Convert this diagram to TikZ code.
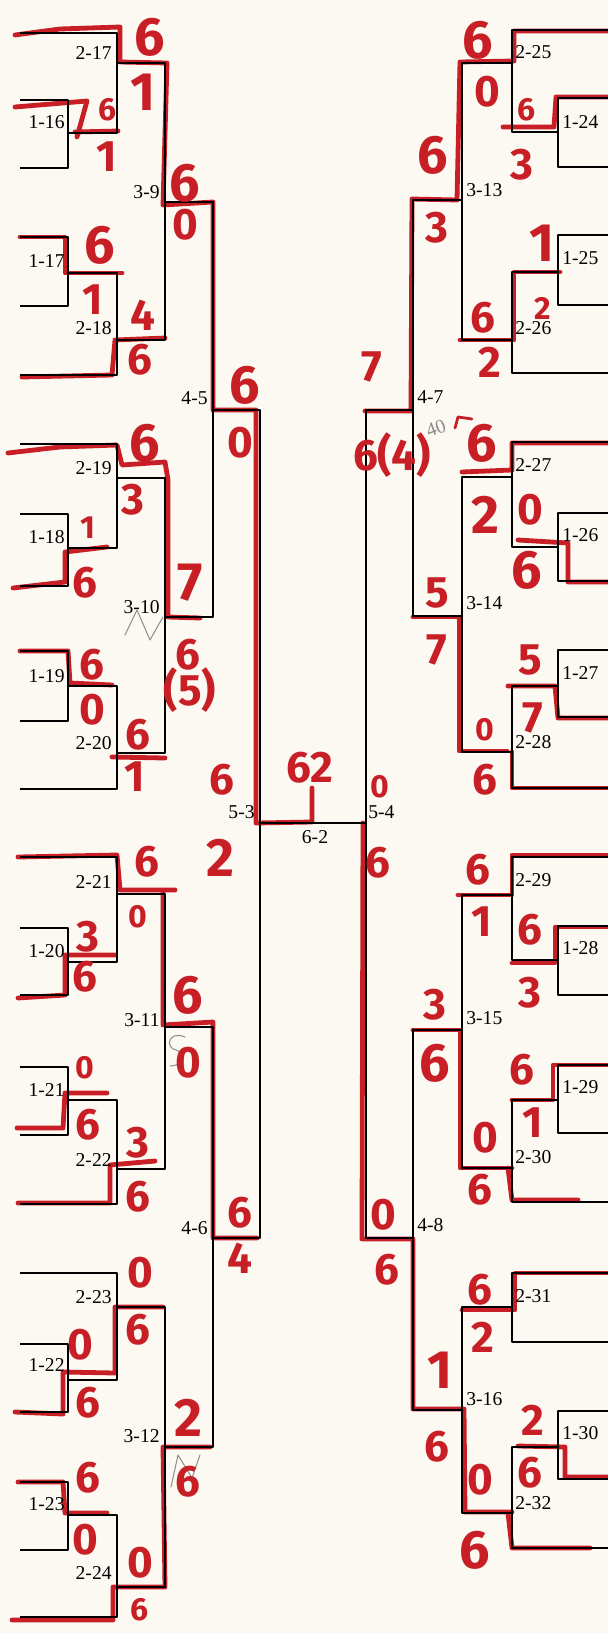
\documentclass[tikz,border=0pt]{standalone}
\usepackage{fontspec}
\usepackage{tikz}
\usepackage{xcolor}
\newfontfamily\lblfont{Liberation Serif}
\newfontfamily\handfont{Fira Sans}
\definecolor{paper}{RGB}{251,249,241}
\definecolor{handred}{RGB}{200,30,38}
\definecolor{pencil}{RGB}{140,140,140}

\begin{document}
\begin{tikzpicture}[x=0.5pt,y=-0.5pt,line cap=round,line join=round,
  bk/.style={black,line width=1.1pt,line cap=butt},
  rd/.style={handred,line width=2.4pt},
  lbl/.style={font=\lblfont\fontsize{9.8}{10}\selectfont,inner sep=1pt},
  sc/.style={text=handred,inner sep=0pt,font=\handfont\bfseries\fontsize{22}{22}\selectfont},
  scb/.style={sc,font=\handfont\bfseries\fontsize{27}{27}\selectfont},
  scs/.style={sc,font=\handfont\bfseries\fontsize{16}{16}\selectfont}]
\fill[paper] (0,0) rectangle (608,1633);
\useasboundingbox (0,0) rectangle (608,1633);

\draw[rd] (15,35) -- (60,29) -- (120,27) -- (120,62) -- (167,63) -- (163,205) -- (213,202) -- (213,410) -- (256,410) -- (256,823) -- (312,822) -- (312,788);
\draw[rd] (15,107) -- (87,101) -- (77,137);
\draw[rd] (75,132) -- (118,131);
\draw[rd] (20,237) -- (65,237) -- (65,273) -- (122,273);
\draw[rd] (22,377) -- (112,375) -- (115,340) -- (165,338);
\draw[rd] (8,453) -- (60,447) -- (117,445) -- (122,465) -- (165,462) -- (168,480) -- (168,617) -- (200,618);
\draw[rd] (13,588) -- (65,582) -- (65,552) -- (107,547);
\draw[rd] (20,651) -- (68,651) -- (70,683) -- (112,685);
\draw[rd] (112,757) -- (165,758);
\draw[rd] (18,857) -- (117,855) -- (120,890) -- (175,890);
\draw[rd] (163,892) -- (163,1025) -- (213,1022) -- (213,1238) -- (257,1238);
\draw[rd] (18,998) -- (65,995) -- (65,955) -- (115,955);
\draw[rd] (17,1128) -- (63,1128) -- (65,1093) -- (107,1093);
\draw[rd] (18,1203) -- (110,1203) -- (110,1165) -- (155,1161);
\draw[rd] (15,1412) -- (63,1414) -- (63,1372) -- (115,1373) -- (115,1307) -- (163,1307);
\draw[rd] (18,1482) -- (63,1482) -- (65,1513) -- (107,1513);
\draw[rd] (12,1620) -- (113,1620) -- (113,1587) -- (165,1587) -- (163,1447) -- (210,1447);
\draw[rd] (610,31) -- (514,31) -- (514,61) -- (460,62) -- (457,200) -- (412,199) -- (411,411) -- (365,411);
\draw[rd] (610,97) -- (556,97) -- (554,127) -- (503,127);
\draw[rd] (560,272) -- (514,272) -- (514,340) -- (460,340);
\draw[rd] (610,443) -- (512,443) -- (512,470) -- (462,472);
\draw[rd] (610,582) -- (568,582) -- (568,543) -- (518,540);
\draw[rd] (413,617) -- (459,617) -- (459,751) -- (507,751);
\draw[rd] (610,718) -- (558,718) -- (555,686) -- (508,686);
\draw[rd] (610,788) -- (512,788) -- (512,752);
\draw[rd] (363,823) -- (362,1239) -- (413,1239) -- (413,1409) -- (464,1409) -- (465,1512) -- (512,1512);
\draw[rd] (610,855) -- (512,855) -- (512,895) -- (458,895);
\draw[rd] (610,927) -- (555,927) -- (555,963) -- (512,963);
\draw[rd] (413,1030) -- (460,1030) -- (460,1168) -- (512,1168);
\draw[rd] (610,1065) -- (553,1065) -- (553,1100) -- (512,1100);
\draw[rd] (578,1200) -- (512,1200) -- (508,1168);
\draw[rd] (610,1273) -- (515,1273) -- (515,1310) -- (462,1310);
\draw[rd] (610,1477) -- (565,1477) -- (565,1447) -- (518,1446);
\draw[rd] (590,1548) -- (512,1548) -- (508,1513);
\draw[rd,line width=1.4pt] (455,428) -- (458,417) -- (472,419);

\draw[bk] (20,33) -| (117,133) -- (68,133);
\draw[bk] (20,100) -| (68,168) -- (20,168);
\draw[bk] (20,237) -| (68,306) -- (20,306);
\draw[bk] (68,273) -| (117,375) -- (20,375);
\draw[bk] (117,63) -| (165,340) -- (117,340);
\draw[bk] (165,202) -| (213,617) -- (165,617);
\draw[bk] (20,444) -| (117,548) -- (68,548);
\draw[bk] (20,514) -| (68,586) -- (20,586);
\draw[bk] (20,651) -| (68,721) -- (20,721);
\draw[bk] (68,686) -| (117,789) -- (20,789);
\draw[bk] (117,478) -| (165,753) -- (117,753);
\draw[bk] (213,410) -| (260,1238) -- (213,1238);
\draw[bk] (20,857) -| (117,962) -- (68,962);
\draw[bk] (20,928) -| (68,995) -- (20,995);
\draw[bk] (20,1067) -| (68,1135) -- (20,1135);
\draw[bk] (68,1100) -| (117,1204) -- (20,1204);
\draw[bk] (117,894) -| (165,1169) -- (117,1169);
\draw[bk] (165,1027) -| (213,1447) -- (165,1447);
\draw[bk] (20,1273) -| (117,1380) -- (68,1380);
\draw[bk] (20,1344) -| (68,1412) -- (20,1412);
\draw[bk] (20,1482) -| (68,1550) -- (20,1550);
\draw[bk] (68,1515) -| (117,1617) -- (20,1617);
\draw[bk] (117,1307) -| (165,1587) -- (117,1587);
\draw[bk] (260,823) -- (366,823);
\draw[bk] (610,30) -| (512,132) -- (558,132);
\draw[bk] (610,98) -| (558,167) -- (610,167);
\draw[bk] (610,235) -| (558,305) -- (610,305);
\draw[bk] (558,272) -| (512,373) -- (610,373);
\draw[bk] (512,63) -| (462,340) -- (512,340);
\draw[bk] (462,200) -| (413,616) -- (462,616);
\draw[bk] (413,410) -| (366,1238) -- (413,1238);
\draw[bk] (610,442) -| (512,547) -- (558,547);
\draw[bk] (610,513) -| (558,581) -- (610,581);
\draw[bk] (610,650) -| (558,717) -- (610,717);
\draw[bk] (558,686) -| (512,788) -- (610,788);
\draw[bk] (512,477) -| (462,752) -- (512,752);
\draw[bk] (610,857) -| (512,960) -- (558,960);
\draw[bk] (610,926) -| (558,995) -- (610,995);
\draw[bk] (610,1065) -| (558,1133) -- (610,1133);
\draw[bk] (558,1100) -| (512,1202) -- (610,1202);
\draw[bk] (512,895) -| (462,1168) -- (512,1168);
\draw[bk] (462,1030) -| (413,1410) -- (462,1410);
\draw[bk] (610,1273) -| (512,1342) -- (610,1342);
\draw[bk] (610,1411) -| (558,1479) -- (610,1479);
\draw[bk] (558,1447) -| (512,1548) -- (610,1548);
\draw[bk] (512,1307) -| (462,1513) -- (512,1513);

\draw[pencil,line width=0.5pt] (125,635) -- (137,610) -- (150,640) -- (163,617);
\draw[pencil,line width=0.5pt] (185,1037) .. controls (168,1030) and (165,1048) .. (176,1050) .. controls (186,1053) and (186,1065) .. (170,1066);
\draw[pencil,line width=0.5pt] (171,1487) -- (178,1455) -- (192,1478) -- (200,1455);
\node[lbl,text=pencil,rotate=20] (g40) at (436,428) {40};

\node[lbl,anchor=east] (m217) at (114,53) {2-17};
\node[lbl,anchor=east] (m116) at (67,122) {1-16};
\node[lbl,anchor=east] (m309) at (162,192) {3-9};
\node[lbl,anchor=east] (m117) at (67,261) {1-17};
\node[lbl,anchor=east] (m218) at (114,328) {2-18};
\node[lbl,anchor=east] (m405) at (210,398) {4-5};
\node[lbl,anchor=east] (m219) at (114,468) {2-19};
\node[lbl,anchor=east] (m118) at (67,537) {1-18};
\node[lbl,anchor=east] (m310) at (162,607) {3-10};
\node[lbl,anchor=east] (m119) at (67,676) {1-19};
\node[lbl,anchor=east] (m220) at (114,743) {2-20};
\node[lbl,anchor=east] (m503) at (257,812) {5-3};
\node[lbl,anchor=east] (m221) at (114,882) {2-21};
\node[lbl,anchor=east] (m120) at (67,951) {1-20};
\node[lbl,anchor=east] (m311) at (162,1020) {3-11};
\node[lbl,anchor=east] (m121) at (67,1090) {1-21};
\node[lbl,anchor=east] (m222) at (114,1160) {2-22};
\node[lbl,anchor=east] (m406) at (210,1228) {4-6};
\node[lbl,anchor=east] (m223) at (114,1297) {2-23};
\node[lbl,anchor=east] (m122) at (67,1365) {1-22};
\node[lbl,anchor=east] (m312) at (162,1436) {3-12};
\node[lbl,anchor=east] (m123) at (67,1504) {1-23};
\node[lbl,anchor=east] (m224) at (114,1573) {2-24};
\node[lbl] (m602) at (315,837) {6-2};
\node[lbl,anchor=west] (m225) at (513,52) {2-25};
\node[lbl,anchor=west] (m124) at (560,122) {1-24};
\node[lbl,anchor=west] (m313) at (464,190) {3-13};
\node[lbl,anchor=west] (m125) at (560,258) {1-25};
\node[lbl,anchor=west] (m226) at (513,328) {2-26};
\node[lbl,anchor=west] (m407) at (415,397) {4-7};
\node[lbl,anchor=west] (m227) at (513,465) {2-27};
\node[lbl,anchor=west] (m126) at (560,535) {1-26};
\node[lbl,anchor=west] (m314) at (464,603) {3-14};
\node[lbl,anchor=west] (m127) at (560,673) {1-27};
\node[lbl,anchor=west] (m228) at (513,742) {2-28};
\node[lbl,anchor=west] (m504) at (366,812) {5-4};
\node[lbl,anchor=west] (m229) at (513,880) {2-29};
\node[lbl,anchor=west] (m128) at (560,948) {1-28};
\node[lbl,anchor=west] (m315) at (464,1018) {3-15};
\node[lbl,anchor=west] (m129) at (560,1087) {1-29};
\node[lbl,anchor=west] (m230) at (513,1157) {2-30};
\node[lbl,anchor=west] (m408) at (415,1225) {4-8};
\node[lbl,anchor=west] (m231) at (513,1296) {2-31};
\node[lbl,anchor=west] (m316) at (464,1399) {3-16};
\node[lbl,anchor=west] (m130) at (560,1433) {1-30};
\node[lbl,anchor=west] (m232) at (513,1503) {2-32};

\node[scb] (sc1) at (150,37) {6};
\node[scb] (sc2) at (143,92) {1};
\node[scs] (sc3) at (108,110) {6};
\node[sc] (sc4) at (107,157) {1};
\node[scb] (sc5) at (185,183) {6};
\node[sc] (sc6) at (185,225) {0};
\node[scb] (sc7) at (100,245) {6};
\node[sc] (sc8) at (93,300) {1};
\node[sc] (sc9) at (143,315) {4};
\node[sc] (sc10) at (140,360) {6};
\node[scb] (sc11) at (245,385) {6};
\node[sc] (sc12) at (240,443) {0};
\node[scb] (sc13) at (145,443) {6};
\node[sc] (sc14) at (133,500) {3};
\node[scs] (sc15) at (88,528) {1};
\node[sc] (sc16) at (85,583) {6};
\node[scb] (sc17) at (190,583) {7};
\node[sc] (sc18) at (188,655) {6};
\node[sc] (sc19) at (190,690) {(5)};
\node[sc] (sc20) at (92,665) {6};
\node[sc] (sc21) at (92,710) {0};
\node[sc] (sc22) at (138,735) {6};
\node[sc] (sc23) at (135,777) {1};
\node[sc] (sc24) at (222,780) {6};
\node[scb] (sc25) at (220,858) {2};
\node[sc] (sc26) at (147,862) {6};
\node[scs] (sc27) at (138,917) {0};
\node[sc] (sc28) at (88,937) {3};
\node[sc] (sc29) at (85,977) {6};
\node[scb] (sc30) at (188,995) {6};
\node[sc] (sc31) at (188,1063) {0};
\node[scs] (sc32) at (85,1068) {0};
\node[sc] (sc33) at (88,1125) {6};
\node[sc] (sc34) at (138,1143) {3};
\node[sc] (sc35) at (138,1197) {6};
\node[sc] (sc36) at (240,1213) {6};
\node[sc] (sc37) at (240,1258) {4};
\node[sc] (sc38) at (140,1273) {0};
\node[sc] (sc39) at (138,1330) {6};
\node[sc] (sc40) at (80,1345) {0};
\node[sc] (sc41) at (88,1403) {6};
\node[scb] (sc42) at (188,1418) {2};
\node[sc] (sc43) at (188,1482) {6};
\node[sc] (sc44) at (88,1478) {6};
\node[sc] (sc45) at (85,1540) {0};
\node[sc] (sc46) at (140,1563) {0};
\node[scs] (sc47) at (140,1610) {6};
\node[sc] (sc48) at (310,768) {62};
\node[scs] (sc49) at (380,787) {0};
\node[sc] (sc50) at (378,863) {6};
\node[sc] (sc51) at (372,367) {7};
\node[sc] (sc52) at (392,455) {6(4)};
\node[scb] (sc53) at (478,40) {6};
\node[sc] (sc54) at (487,92) {0};
\node[scs] (sc55) at (527,110) {6};
\node[sc] (sc56) at (522,165) {3};
\node[scb] (sc57) at (433,155) {6};
\node[sc] (sc58) at (437,228) {3};
\node[scb] (sc59) at (542,243) {1};
\node[scs] (sc60) at (543,308) {2};
\node[sc] (sc61) at (483,318) {6};
\node[sc] (sc62) at (490,362) {2};
\node[scb] (sc63) at (482,443) {6};
\node[scb] (sc64) at (485,515) {2};
\node[sc] (sc65) at (530,510) {0};
\node[scb] (sc66) at (527,570) {6};
\node[sc] (sc67) at (437,593) {5};
\node[sc] (sc68) at (437,650) {7};
\node[sc] (sc69) at (530,660) {5};
\node[sc] (sc70) at (533,718) {7};
\node[scs] (sc71) at (485,730) {0};
\node[sc] (sc72) at (485,780) {6};
\node[sc] (sc73) at (478,870) {6};
\node[sc] (sc74) at (482,922) {1};
\node[sc] (sc75) at (530,930) {6};
\node[sc] (sc76) at (530,993) {3};
\node[sc] (sc77) at (435,1005) {3};
\node[scb] (sc78) at (435,1063) {6};
\node[sc] (sc79) at (522,1070) {6};
\node[sc] (sc80) at (533,1123) {1};
\node[sc] (sc81) at (485,1138) {0};
\node[sc] (sc82) at (480,1190) {6};
\node[sc] (sc83) at (383,1215) {0};
\node[sc] (sc84) at (387,1270) {6};
\node[sc] (sc85) at (480,1290) {6};
\node[sc] (sc86) at (483,1337) {2};
\node[scb] (sc87) at (440,1370) {1};
\node[sc] (sc88) at (437,1447) {6};
\node[sc] (sc89) at (533,1420) {2};
\node[sc] (sc90) at (530,1473) {6};
\node[sc] (sc91) at (480,1480) {0};
\node[scb] (sc92) at (475,1550) {6};
\end{tikzpicture}
\end{document}
